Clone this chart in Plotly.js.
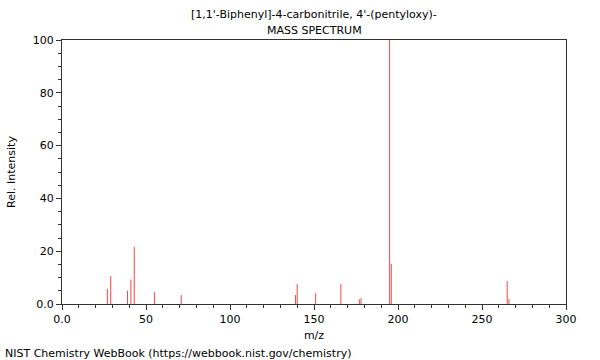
<!DOCTYPE html>
<html>
<head>
<meta charset="utf-8">
<script src="https://cdn.plot.ly/plotly-3.0.1.min.js"></script>
<style>html,body{margin:0;padding:0;background:#fff;}#chart{width:600px;height:360px;}</style>
</head>
<body>
<div id="chart"></div>
<script>
const mz =        [27, 29, 39, 41, 43, 55, 71, 139, 140, 151, 166, 177, 178, 195, 196, 265, 266];
const intensity = [5.7, 10.6, 5.0, 9.3, 21.6, 4.5, 3.4, 3.4, 7.6, 4.2, 7.6, 1.8, 2.3, 100, 15.3, 8.7, 1.9];
const titleLines = ["[1,1'-Biphenyl]-4-carbonitrile, 4'-(pentyloxy)-", "MASS SPECTRUM"];
const xLabel = "m/z";
const yLabel = "Rel. Intensity";
const footer = "NIST Chemistry WebBook (https://webbook.nist.gov/chemistry)";

const xs = [], ys = [];
mz.forEach((m, i) => { xs.push(m, m, null); ys.push(0, intensity[i], null); });

const font = {family: "DejaVu Sans, sans-serif", size: 11, color: "#000"};
const axisCommon = {
  showgrid: false, zeroline: false, showline: true, mirror: true,
  linecolor: "#333", linewidth: 1, ticks: "outside", ticklen: 5, tickcolor: "#333",
  tickfont: font
};

Plotly.newPlot("chart", [{
  x: xs, y: ys, type: "scatter", mode: "lines",
  line: {color: "rgb(255,70,70)", width: 1}, hoverinfo: "skip", connectgaps: false
}], {
  width: 600, height: 360,
  margin: {l: 62, r: 34, t: 40, b: 56},
  paper_bgcolor: "#fff", plot_bgcolor: "#fff",
  showlegend: false,
  font: font,
  xaxis: Object.assign({}, axisCommon, {
    range: [0, 300], tickmode: "linear", tick0: 0, dtick: 50,
    labelalias: {"0": "0.0"},
    minor: {tickmode: "linear", tick0: 0, dtick: 10, ticklen: 3, tickcolor: "#333", ticks: "outside"},
    title: {text: xLabel, font: font, standoff: 6}
  }),
  yaxis: Object.assign({}, axisCommon, {
    range: [0, 100], tickmode: "linear", tick0: 0, dtick: 20,
    labelalias: {"0": "0.0"},
    minor: {tickmode: "linear", tick0: 0, dtick: 5, ticklen: 3, tickcolor: "#333", ticks: "outside"},
    title: {text: yLabel, font: font, standoff: 14}
  }),
  annotations: [
    {text: titleLines[0], xref: "paper", yref: "paper", x: 0.5, y: 1 + 26/264,
     xanchor: "center", yanchor: "middle", showarrow: false, font: font},
    {text: titleLines[1], xref: "paper", yref: "paper", x: 0.5, y: 1 + 10/264,
     xanchor: "center", yanchor: "middle", showarrow: false, font: font},
    {text: footer, xref: "paper", yref: "paper", x: -62/504, y: -49/264,
     xanchor: "left", yanchor: "middle", showarrow: false, font: font, xshift: 3}
  ]
}, {staticPlot: true});
</script>
</body>
</html>
